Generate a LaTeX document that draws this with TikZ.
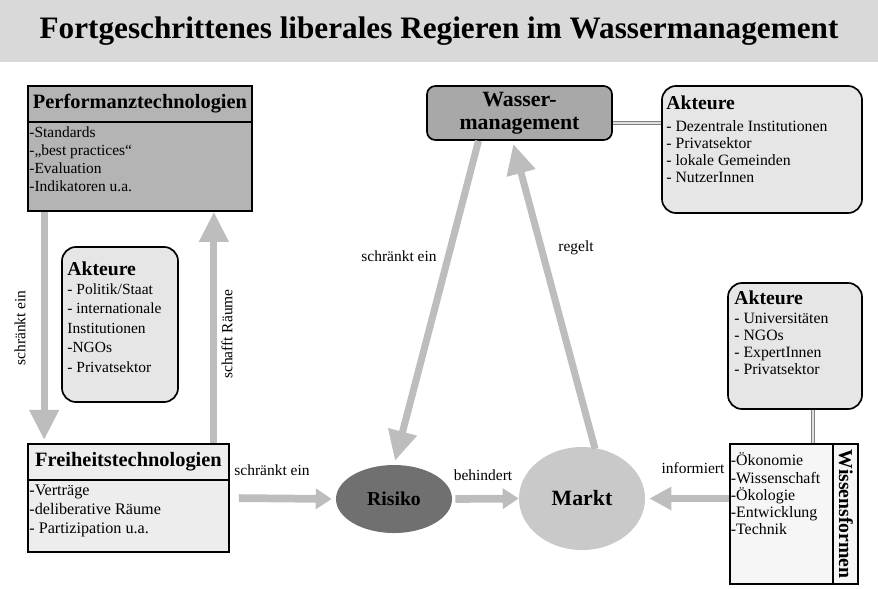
\documentclass[tikz,border=0pt]{standalone}
\usepackage{fontspec}
\setmainfont{Liberation Serif}
\usetikzlibrary{positioning,shapes.geometric,arrows.meta,calc}

\definecolor{titlegray}{HTML}{D9D9D9}
\definecolor{perfgray}{HTML}{B4B4B4}
\definecolor{freigray}{HTML}{EDEDED}
\definecolor{actorgray}{HTML}{E6E6E6}
\definecolor{wassergray}{HTML}{A8A8A8}
\definecolor{risikogray}{HTML}{707070}
\definecolor{marktgray}{HTML}{C9C9C9}
\definecolor{arrowgray}{HTML}{BDBDBD}
\definecolor{wissengray}{HTML}{F6F6F6}

\tikzstyle{techbox} = [draw=black,line width=1.2pt,rectangle,inner sep=0pt]
\tikzstyle{techhead} = [font=\bfseries\fontsize{14.5}{16}\selectfont,inner sep=0pt,minimum height=0.9cm]
\tikzstyle{itemlist} = [align=left,anchor=north west,inner sep=1pt,font=\fontsize{11}{13}\selectfont]
\tikzstyle{actorbox} = [draw=black,line width=1.2pt,rounded corners=10pt,fill=actorgray,rectangle]
\tikzstyle{actortext} = [align=left,anchor=north west,inner sep=0pt,font=\fontsize{11.2}{12}\selectfont]
\tikzstyle{bigarrow} = [draw=arrowgray,line width=5pt,-{Triangle[width=0.7cm,length=0.75cm]}]
\tikzstyle{smallarrow} = [draw=arrowgray,line width=5.5pt,-{Triangle[width=0.5cm,length=0.4cm]}]
\tikzstyle{lbl} = [font=\fontsize{11}{13}\selectfont,inner sep=0pt]
\tikzstyle{link} = [draw=gray,double=gray!25,double distance=1.5pt,line width=0.6pt]

\newcommand{\akthead}{{\bfseries\fontsize{14}{16}\selectfont Akteure}}

\begin{document}
\begin{tikzpicture}[x=0.025cm,y=-0.025cm]
	\useasboundingbox (0,0) rectangle (878,588);
	% title
	\node (title) [fill=titlegray,minimum width=21.95cm,minimum height=1.55cm,inner sep=0pt,
		font=\bfseries\fontsize{22.2}{24}\selectfont] at (439,31) {Fortgeschrittenes liberales Regieren im Wassermanagement};
	% performance technologies
	\node (perf) [techbox,fill=perfgray,minimum width=5.6cm,minimum height=3.125cm] at (140,148.5) {};
	\node (perfhead) [techhead,minimum width=5.6cm,below=0pt of perf.north] {Performanztechnologien};
	\draw [line width=1.2pt] (perfhead.south west) -- (perfhead.south east);
	\node (perflist) [itemlist] at ($(perfhead.south west)+(0,3)$) {-Standards\\-„best practices“\\-Evaluation\\-Indikatoren u.a.};
	% freedom technologies
	\node (frei) [techbox,fill=freigray,minimum width=5.025cm,minimum height=2.7cm] at (128.5,498) {};
	\node (freihead) [techhead,minimum width=5.025cm,below=0pt of frei.north] {Freiheitstechnologien};
	\draw [line width=1.2pt] (freihead.south west) -- (freihead.south east);
	\node (freilist) [itemlist,font=\fontsize{11.5}{13.6}\selectfont] at ($(freihead.south west)+(0,3)$) {-Verträge\\-deliberative Räume\\- Partizipation u.a.};
	% actors left
	\node (aktpol) [actorbox,minimum width=2.9cm,minimum height=3.875cm] at (120,324.5) {};
	\node (aktpoltext) [actortext,font=\fontsize{11}{13.8}\selectfont] at ($(aktpol.north west)+(6,15)$)
		{\akthead\\- Politik/Staat\\- internationale\\Institutionen\\-NGOs\\- Privatsektor};
	% water management
	\node (wasser) [draw=black,line width=1.2pt,rounded corners=6pt,fill=wassergray,minimum width=4.625cm,minimum height=1.35cm,
		align=center,font=\bfseries\fontsize{15.5}{16.5}\selectfont] at (519.5,113) {Wasser-\\management};
	\node (aktlok) [actorbox,minimum width=5cm,minimum height=3.175cm] at (762,149.5) {};
	\node (aktloktext) [actortext] at ($(aktlok.north west)+(5,10)$)
		{\akthead\\[4pt]- Dezentrale Institutionen\\- Privatsektor\\- lokale Gemeinden\\- NutzerInnen};
	\draw [link] (wasser.east |- 0,123) -- (aktlok.west |- 0,123);
	% risk and market
	\node (risiko) [ellipse,fill=risikogray,minimum width=2.9cm,minimum height=1.7cm,inner sep=0pt,
		font=\bfseries\fontsize{14}{16}\selectfont] at (394,499) {Risiko};
	\node (markt) [ellipse,fill=marktgray,minimum width=3.15cm,minimum height=2.575cm,inner sep=0pt,
		font=\bfseries\fontsize{15.5}{17}\selectfont] at (582,498.5) {Markt};
	% forms of knowledge
	\node (wissen) [techbox,fill=wissengray,minimum width=3.2cm,minimum height=3.5cm] at (794,514) {};
	\draw [line width=1.2pt] ($(wissen.north west)+(104,0)$) -- ($(wissen.south west)+(104,0)$);
	\node (wissenlabel) [rotate=-90,inner sep=0pt,font=\bfseries\fontsize{14}{16}\selectfont] at (846,514) {Wissensformen};
	\node (wissenlist) [itemlist,font=\fontsize{11.3}{12.3}\selectfont] at ($(wissen.north west)+(0,8)$)
		{-Ökonomie\\-Wissenschaft\\-Ökologie\\-Entwicklung\\-Technik};
	\node (aktwis) [actorbox,minimum width=3.35cm,minimum height=3.15cm] at (795,346) {};
	\node (aktwistext) [actortext] at ($(aktwis.north west)+(7,8)$)
		{\akthead\\[2pt]- Universitäten\\- NGOs\\- ExpertInnen\\- Privatsektor};
	\draw [link] ($(aktwis.south)+(18,0)$) -- ($(wissen.north)+(19,0)$);
	% connections
	\coordinate (downstart) at ($(perf.south west)+(17,0)$);
	\coordinate (upstart) at ($(frei.north east)+(-16,0)$);
	\draw [bigarrow,shorten >=0.08cm] (downstart) -- (downstart |- frei.north);
	\draw [bigarrow] (upstart) -- (upstart |- perf.south);
	\draw [bigarrow,shorten >=0.1cm] ($(wasser.south)+(-41,0)$) -- (risiko.north);
	\draw [bigarrow,shorten >=0.08cm] ($(markt.north)+(13,2)$) -- ($(wasser.south)+(-7,0)$);
	\draw [smallarrow,shorten <=0.225cm,shorten >=0.1cm] (frei.east) -- (risiko.west);
	\draw [smallarrow,shorten <=0.075cm] (risiko.east) -- (markt.west);
	\draw [smallarrow,-{Triangle[width=0.55cm,length=0.55cm]},shorten >=0.1cm] (wissen.west |- markt.east) -- (markt.east);
	% labels
	\node (lbldown) [lbl,rotate=90] at (20,328) {schränkt ein};
	\node (lblup) [lbl,rotate=90] at (227,334) {schafft Räume};
	\node (lblwasser) [lbl] at (399,256) {schränkt ein};
	\node (lblregelt) [lbl] at (576,248) {regelt};
	\node (lblfrei) [lbl] at (272,470) {schränkt ein};
	\node (lblbehindert) [lbl] at (483,475) {behindert};
	\node (lblinform) [lbl] at (693,468) {informiert};
\end{tikzpicture}
\end{document}
